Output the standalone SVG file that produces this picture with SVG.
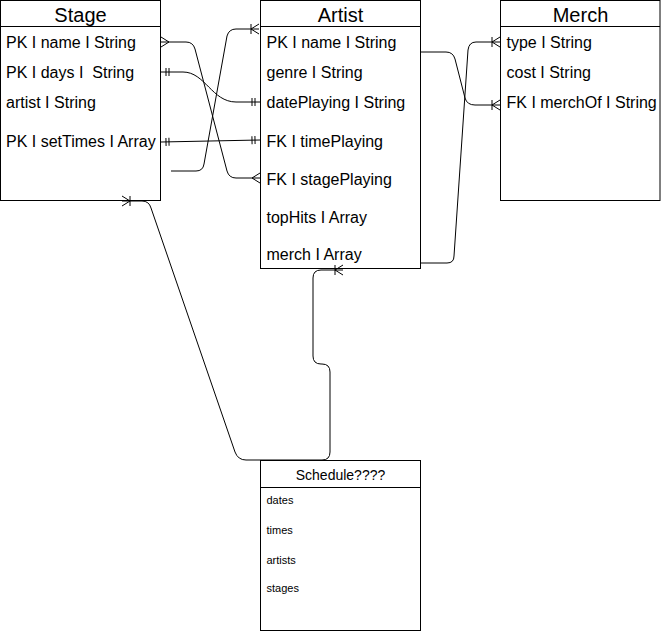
<svg xmlns="http://www.w3.org/2000/svg" width="661" height="634" viewBox="0 0 661 634">
<style>
.box{fill:#fff;stroke:#000;stroke-width:1}
.sep{stroke:#000;stroke-width:1}
.title{font-family:"Liberation Sans",Arial,sans-serif;font-size:20px;fill:#000;text-anchor:middle}
.row{font-family:"Liberation Sans",Arial,sans-serif;font-size:16px;fill:#000;white-space:pre}
.stitle{font-family:"Liberation Sans",Arial,sans-serif;font-size:14px;fill:#000;text-anchor:middle}
.srow{font-family:"Liberation Sans",Arial,sans-serif;font-size:11px;fill:#000}
.edge{fill:none;stroke:#000;stroke-width:1}
.mk{fill:none;stroke:#000;stroke-width:1}
</style>
<defs>
<marker id="many" markerUnits="userSpaceOnUse" orient="auto-start-reverse" overflow="visible" markerWidth="20" markerHeight="20" refX="0" refY="0">
<path class="mk" d="M-8,0 L0,-5 M-8,0 L0,5"/>
</marker>
<marker id="oneToMany" markerUnits="userSpaceOnUse" orient="auto-start-reverse" overflow="visible" markerWidth="20" markerHeight="20" refX="0" refY="0">
<path class="mk" d="M-8,0 L0,-5 M-8,0 L0,5 M-8,-5 L-8,5"/>
</marker>
<marker id="mandOne" markerUnits="userSpaceOnUse" orient="auto-start-reverse" overflow="visible" markerWidth="20" markerHeight="20" refX="0" refY="0">
<path class="mk" d="M-5,-4 L-5,4 M-8,-4 L-8,4"/>
</marker>
</defs>
<rect width="661" height="634" fill="#fff"/>

<g id="stage">
<rect class="box" x="0.5" y="0.5" width="160" height="200"/>
<line class="sep" x1="0.5" y1="26.5" x2="160.5" y2="26.5"/>
<text class="title" x="80.5" y="22">Stage</text>
<text class="row" x="6" y="48">PK I name I String</text>
<text class="row" x="6" y="78" xml:space="preserve">PK I days I  String</text>
<text class="row" x="6" y="108">artist I String</text>
<text class="row" x="6" y="147">PK I setTimes I Array</text>
</g>

<g id="artist">
<rect class="box" x="260.5" y="0.5" width="160" height="268"/>
<line class="sep" x1="260.5" y1="26.5" x2="420.5" y2="26.5"/>
<text class="title" x="340.5" y="22">Artist</text>
<text class="row" x="266.5" y="48">PK I name I String</text>
<text class="row" x="266.5" y="78">genre I String</text>
<text class="row" x="266.5" y="107.5">datePlaying I String</text>
<text class="row" x="266.5" y="146.5">FK I timePlaying</text>
<text class="row" x="266.5" y="184.5">FK I stagePlaying</text>
<text class="row" x="266.5" y="222.5">topHits I Array</text>
<text class="row" x="266.5" y="260">merch I Array</text>
</g>

<g id="merch">
<rect class="box" x="500.5" y="0.5" width="159.5" height="200"/>
<line class="sep" x1="500.5" y1="26.5" x2="660" y2="26.5"/>
<text class="title" x="580.5" y="22">Merch</text>
<text class="row" x="506.5" y="48">type I String</text>
<text class="row" x="506.5" y="78">cost I String</text>
<text class="row" x="506.5" y="107.5">FK I merchOf I String</text>
</g>

<g id="schedule">
<rect class="box" x="260.5" y="460.5" width="160" height="170"/>
<line class="sep" x1="260.5" y1="487.5" x2="420.5" y2="487.5"/>
<text class="stitle" x="340.5" y="480">Schedule????</text>
<text class="srow" x="266.5" y="503.5">dates</text>
<text class="srow" x="266.5" y="533.5">times</text>
<text class="srow" x="266.5" y="563.5">artists</text>
<text class="srow" x="266.5" y="591.5">stages</text>
</g>

<g id="connectors">
<path class="edge" d="M161,42 L186,42 Q193,42 195,49 L227,171 Q229,178 236,178 L260,178" marker-start="url(#many)" marker-end="url(#many)"/>
<path class="edge" d="M161,72 L183,72 C205,72 212,102 236,102 L260,102" marker-start="url(#mandOne)" marker-end="url(#mandOne)"/>
<path class="edge" d="M161,142 L260,140" marker-start="url(#mandOne)" marker-end="url(#mandOne)"/>
<path class="edge" d="M171,171 L196,171 Q203,171 204,164 L227,36 Q229,29 236,29 L259,29" marker-end="url(#oneToMany)"/>
<path class="edge" d="M421,52 L446,52 Q453,52 455,59 L465,98 Q467,105 475,105 L500,105" marker-end="url(#oneToMany)"/>
<path class="edge" d="M421,263 L447,263 Q454,263 454,256 L468,50 Q469,42 476,42 L500,42" marker-end="url(#oneToMany)"/>
<path class="edge" d="M122,201 L142,201 Q149,201 151,208 L235,452 Q238,460 246,460 L322,460 Q330,460 330,452 L330,372 Q330,364 322,364 L321,364 Q313,364 313,356 L313,278 Q313,270 321,270 L343,270" marker-start="url(#oneToMany)" marker-end="url(#oneToMany)"/>
</g>
</svg>
